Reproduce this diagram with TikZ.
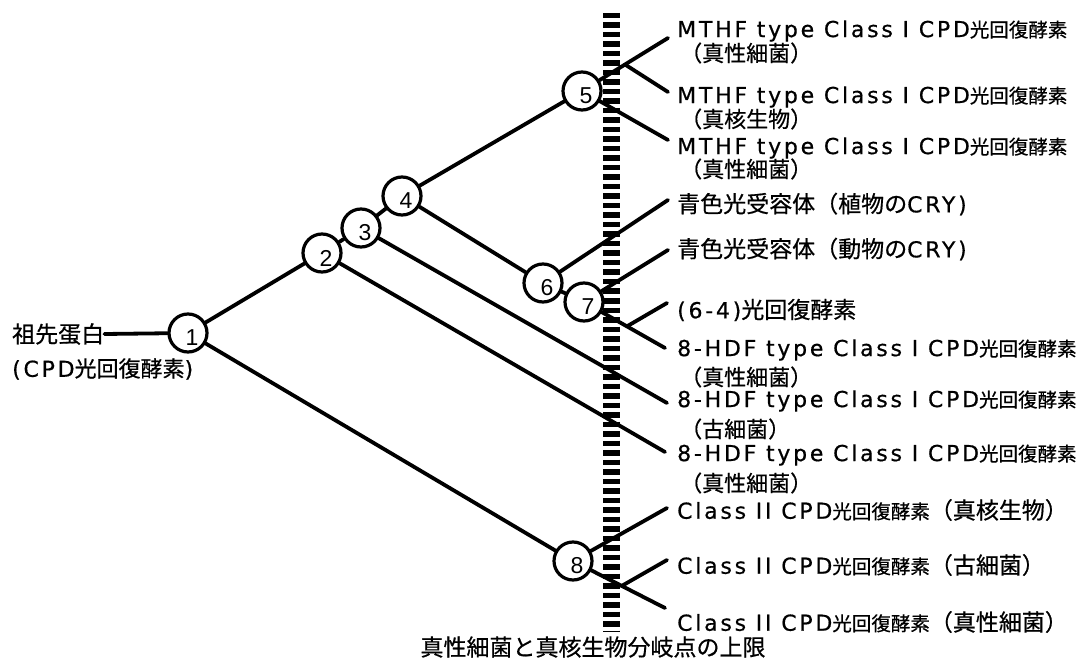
\documentclass[tikz,border=0pt]{standalone}
\usepackage{fontspec}
\usetikzlibrary{calc}
\newfontfamily\jpfam[FakeBold=0.6]{Noto Sans CJK JP}
\newfontfamily\lafam[LetterSpace=12.5,FakeBold=0.6]{DejaVu Sans}
\newfontfamily\dgfam{Liberation Sans}
\newcommand{\tlat}[1]{{\lafam\fontsize{22}{24}\selectfont #1}}
\newcommand{\tjs}[1]{{\jpfam\fontsize{19.5}{21}\selectfont #1}}
\newcommand{\tjm}[1]{{\jpfam\fontsize{22}{23}\selectfont #1}}
\newcommand{\tjl}[1]{{\jpfam\fontsize{23}{25}\selectfont #1}}
\tikzset{
  branch/.style={line width=3.8pt, line cap=round},
  circ/.style={circle, draw, line width=3.2pt, minimum size=38pt, inner sep=0pt},
  dig/.style={font=\dgfam\fontsize{23}{23}\selectfont, inner sep=0pt},
  lbl/.style={anchor=west, inner sep=0pt},
  barline/.style={line width=17pt, dash pattern=on 5.5pt off 4pt}
}
\begin{document}
\begin{tikzpicture}[x=1pt,y=-1pt]
\useasboundingbox (0,0) rectangle (1089,668);
\fill[white] (0,0) rectangle (1089,668);

% vertical dashed bar
\coordinate (bartop) at (611.5,13);
\coordinate (barbot) at (611.5,632);
\draw[barline] (bartop) -- (barbot);

% circles
\node[circ] (c1) at (188,333) {};
\node[circ] (c2) at (322,253) {};
\node[circ] (c3) at (361,228) {};
\node[circ] (c4) at (402,196) {};
\node[circ] (c5) at (582,91) {};
\node[circ] (c6) at (543,283) {};
\node[circ] (c7) at (584,302) {};
\node[circ] (c8) at (573,561) {};
\foreach \i in {1,...,8} {\node[dig] (d\i) at ($(c\i)+(4,5)$) {\i};}

% branch end points
\coordinate (e1) at (668,38);
\coordinate (e2) at (668,92);
\coordinate (e3) at (668,140);
\coordinate (e4) at (668,200);
\coordinate (e5) at (668,250);
\coordinate (e6) at (667,303);
\coordinate (e7) at (665,348);
\coordinate (e8) at (667,403);
\coordinate (e9) at (665,452);
\coordinate (e10) at (667,508);
\coordinate (e11) at (667,560);
\coordinate (e12) at (665,608);
\coordinate (j5) at ($(c5)!0.5!(e1)$);
\coordinate (j7) at ($(c7)!0.53!(e7)$);
\coordinate (j8) at ($(c8)!0.53!(e12)$);

% left labels
\node[lbl] (t0) at (12,334) {\tjl{祖先蛋白}};
\node[lbl] (t0b) at (12,369) {\tlat{(CPD}\tjm{光回復酵素}\tlat{)}};

% connectors
\draw[branch] (t0.east) -- (c1);
\draw[branch] (c1) -- (c2);
\draw[branch] (c1) -- (c8);
\draw[branch] (c2) -- (c3);
\draw[branch] (c3) -- (c4);
\draw[branch] (c4) -- (c5);
\draw[branch] (c4) -- (c6);
\draw[branch] (c6) -- (c7);
\draw[branch] (c5) -- (e1);
\draw[branch] (j5) -- (e2);
\draw[branch] (c5) -- (e3);
\draw[branch] (c6) -- (e4);
\draw[branch] (c7) -- (e5);
\draw[branch] (c7) -- (e7);
\draw[branch] (j7) -- (e6);
\draw[branch] (c3) -- (e8);
\draw[branch] (c2) -- (e9);
\draw[branch] (c8) -- (e10);
\draw[branch] (c8) -- (e12);
\draw[branch] (j8) -- (e11);

% right labels
\node[lbl] (t1) at (677,31) {\tlat{MTHF type Class I CPD}\tjs{光回復酵素}};
\node[lbl] (t1s) at (680,53) {\tjm{（真性細菌）}};
\node[lbl] (t2) at (677,97) {\tlat{MTHF type Class I CPD}\tjs{光回復酵素}};
\node[lbl] (t2s) at (680,119) {\tjm{（真核生物）}};
\node[lbl] (t3) at (677,148) {\tlat{MTHF type Class I CPD}\tjs{光回復酵素}};
\node[lbl] (t3s) at (680,169) {\tjm{（真性細菌）}};
\node[lbl] (t4) at (677,204) {\tjl{青色光受容体（植物の}\tlat{CRY)}};
\node[lbl] (t5) at (677,249) {\tjl{青色光受容体（動物の}\tlat{CRY)}};
\node[lbl] (t6) at (677,310) {\tlat{(6-4)}\tjl{光回復酵素}};
\node[lbl] (t7) at (677,350) {\tlat{8-HDF type Class I CPD}\tjs{光回復酵素}};
\node[lbl] (t7s) at (680,377) {\tjm{（真性細菌）}};
\node[lbl] (t8) at (677,401) {\tlat{8-HDF type Class I CPD}\tjs{光回復酵素}};
\node[lbl] (t8s) at (680,429) {\tjm{（古細菌）}};
\node[lbl] (t9) at (677,455) {\tlat{8-HDF type Class I CPD}\tjs{光回復酵素}};
\node[lbl] (t9s) at (680,483) {\tjm{（真性細菌）}};
\node[lbl] (t10) at (677,510) {\tlat{Class II CPD}\tjs{光回復酵素}\tjl{（真核生物）}};
\node[lbl] (t11) at (677,565) {\tlat{Class II CPD}\tjs{光回復酵素}\tjl{（古細菌）}};
\node[lbl] (t12) at (677,622) {\tlat{Class II CPD}\tjs{光回復酵素}\tjl{（真性細菌）}};

% bottom label
\node[inner sep=0pt] (tb) at (593,647) {\tjl{真性細菌と真核生物分岐点の上限}};
\end{tikzpicture}
\end{document}
